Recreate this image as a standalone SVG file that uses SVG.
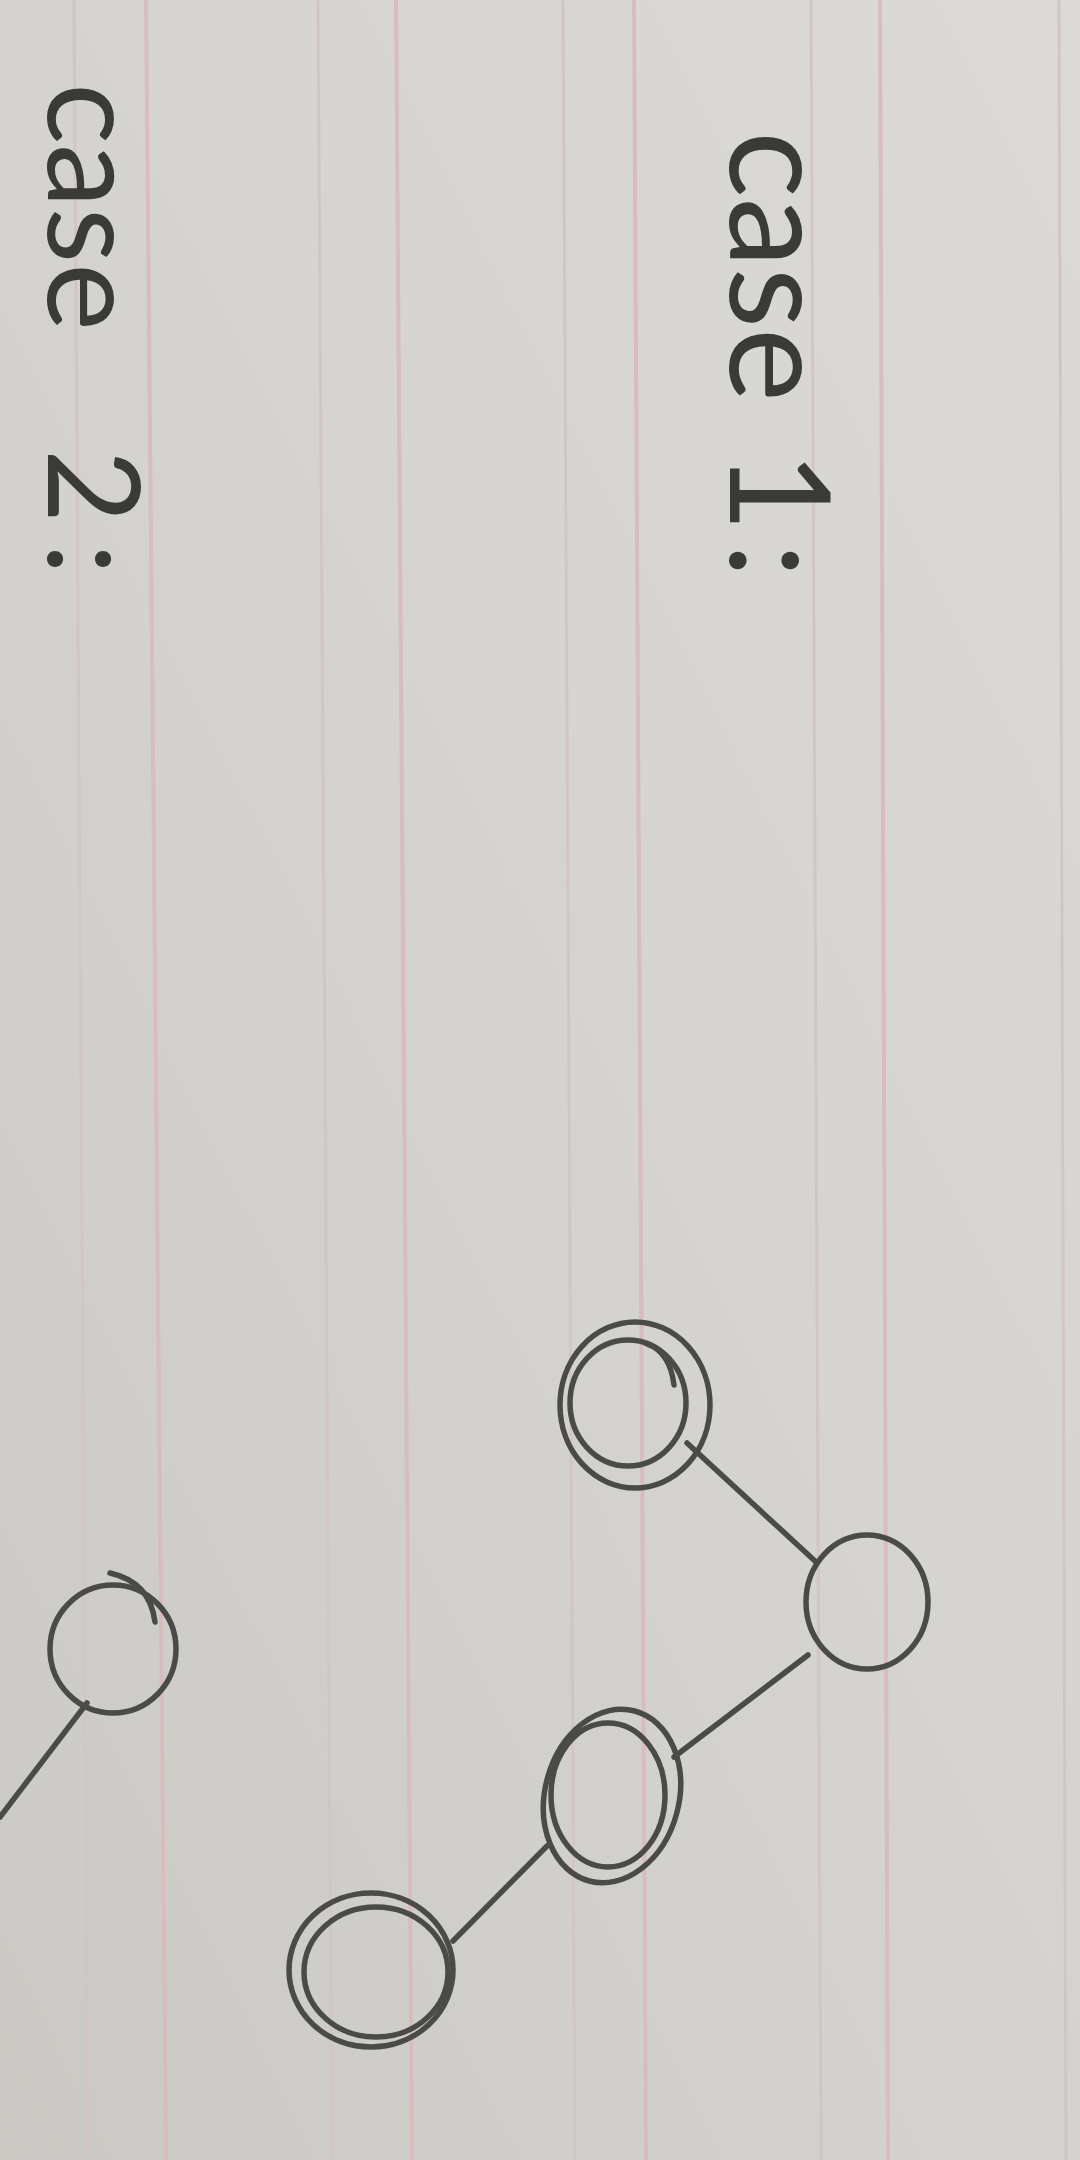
<svg xmlns="http://www.w3.org/2000/svg" width="1080" height="2160" viewBox="0 0 1080 2160">
<defs>
<linearGradient id="paper" x1="1" y1="0" x2="0" y2="1">
<stop offset="0" stop-color="#dcdad6"/>
<stop offset="0.5" stop-color="#d5d3cf"/>
<stop offset="1" stop-color="#cbc9c4"/>
</linearGradient>
<style>
.rule{stroke:#d8bcbe;stroke-width:4;fill:none}
.rule2{stroke:#d2c5c5;stroke-width:3;fill:none}
.ink{stroke:#4a4a48;stroke-width:5.5;fill:none;stroke-linecap:round;stroke-linejoin:round}
.hand{font-family:"Lato","Liberation Sans",sans-serif;font-weight:400;fill:#3a3a38}
</style>
</defs>
<rect x="0" y="0" width="1080" height="2160" fill="url(#paper)"/>
<g id="ruling">
<line class="rule2" x1="74" y1="0" x2="88" y2="2160"/>
<line class="rule" x1="146" y1="0" x2="166" y2="2160"/>
<line class="rule2" x1="318" y1="0" x2="332" y2="2160"/>
<line class="rule" x1="396" y1="0" x2="412" y2="2160"/>
<line class="rule2" x1="563" y1="0" x2="575" y2="2160"/>
<line class="rule" x1="634" y1="0" x2="646" y2="2160"/>
<line class="rule2" x1="811" y1="0" x2="821" y2="2160"/>
<line class="rule" x1="880" y1="0" x2="888" y2="2160"/>
<line class="rule2" x1="1059" y1="0" x2="1066" y2="2160"/>
</g>
<g id="labels">
<text class="hand" font-size="140" transform="translate(730 131) rotate(90)"><tspan x="0">case</tspan><tspan x="320">1</tspan><tspan x="412">:</tspan></text>
<text class="hand" font-size="128" transform="translate(48 83) rotate(90)"><tspan x="0">case</tspan><tspan x="366">2</tspan><tspan x="460">:</tspan></text>
</g>
<g id="connectors">
<line class="ink" x1="687" y1="1443" x2="815" y2="1561"/>
<line class="ink" x1="808" y1="1655" x2="674" y2="1757"/>
<line class="ink" x1="547" y1="1846" x2="453" y2="1941"/>
<line class="ink" x1="87" y1="1703" x2="0" y2="1817"/>
</g>
<g id="node1">
<ellipse class="ink" cx="635" cy="1405" rx="75" ry="83"/>
<ellipse class="ink" cx="628" cy="1403" rx="58" ry="63"/>
<path class="ink" d="M647 1344 Q670 1352 674 1385"/>
</g>
<g id="node2">
<ellipse class="ink" cx="867" cy="1602" rx="61" ry="67"/>
</g>
<g id="node3">
<ellipse class="ink" cx="612" cy="1796" rx="67" ry="88" transform="rotate(15 612 1796)"/>
<ellipse class="ink" cx="608" cy="1795" rx="57" ry="72"/>
</g>
<g id="node4">
<ellipse class="ink" cx="371" cy="1970" rx="82" ry="77"/>
<ellipse class="ink" cx="376" cy="1972" rx="72" ry="65"/>
</g>
<g id="node5">
<ellipse class="ink" cx="113" cy="1649" rx="63" ry="64"/>
<path class="ink" d="M110 1573 Q150 1582 155 1622"/>
</g>
</svg>
